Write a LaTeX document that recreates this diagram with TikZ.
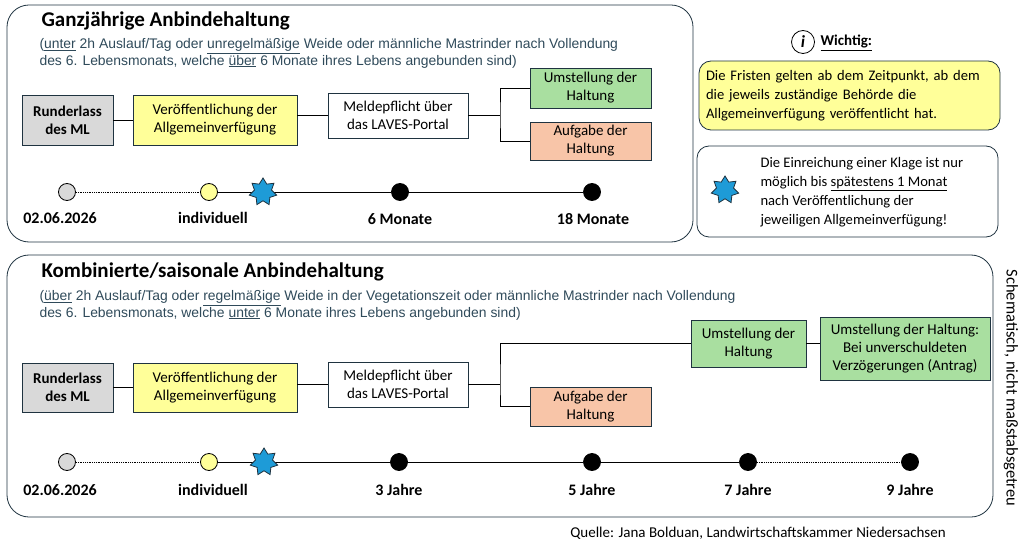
\documentclass[tikz,border=0pt]{standalone}
\usepackage{fontspec}
\setmainfont{Carlito}
\newfontfamily\arialfont{Liberation Sans}
\usetikzlibrary{shapes.geometric}
\definecolor{boxgray}{HTML}{D9D9D9}
\definecolor{boxyellow}{HTML}{FFFF99}
\definecolor{boxgreen}{HTML}{A9DFA0}
\definecolor{boxsalmon}{HTML}{F8C5A8}
\definecolor{starblue}{HTML}{1E9BD7}
\definecolor{edgedark}{HTML}{1F3340}
\definecolor{subtext}{HTML}{2F4A5A}
\tikzset{
  panel/.style = {draw=edgedark, thick, rounded corners=22pt},
  stage/.style = {draw=edgedark, thick, align=center, font=\fontsize{15}{18}\selectfont, inner sep=0pt},
  dot/.style = {draw, thick, circle, minimum size=17pt, inner sep=0pt},
  deadline/.style = {draw=edgedark, thick, fill=starblue, star, star points=7, star point ratio=1.6, minimum size=28pt, inner sep=0pt},
  tlabel/.style = {font=\bfseries\fontsize{16}{18}\selectfont},
  link/.style = {thick}
}
\begin{document}
\begin{tikzpicture}[x=1pt, y=-1pt]
  \useasboundingbox (0,0) rectangle (1024,545);
  % top panel
  \draw[panel] (7,5) rectangle (693,242);
  \node[anchor=west, font=\bfseries\fontsize{21}{24}\selectfont] (t1) at (38,21) {Ganzjährige Anbindehaltung};
  \node[anchor=north west, align=left, text=subtext, font=\arialfont\fontsize{13.9}{16.5}\selectfont] (s1) at (36,35)
    {(\underline{unter} 2h Auslauf/Tag oder \underline{unregelmäßige} Weide oder männliche Mastrinder nach Vollendung\\des 6. Lebensmonats, welche \underline{über} 6 Monate ihres Lebens angebunden sind)};
  \node[stage, fill=boxgray, font=\bfseries\fontsize{15}{18}\selectfont, minimum width=91pt, minimum height=50pt] (a1) at (67.5,120) {Runderlass\\des ML};
  \node[stage, fill=boxyellow, minimum width=164pt, minimum height=50pt] (b1) at (215,120) {Veröffentlichung der\\Allgemeinverfügung};
  \node[stage, fill=white, minimum width=140pt, minimum height=45pt] (c1) at (398,115.5) {Meldepflicht über\\das LAVES-Portal};
  \node[stage, fill=boxgreen, minimum width=121pt, minimum height=40pt] (d1) at (590.5,88) {Umstellung der\\Haltung};
  \node[stage, fill=boxsalmon, minimum width=121pt, minimum height=38pt] (e1) at (590.5,141) {Aufgabe der\\Haltung};
  \coordinate (j1) at (500,115.5);
  \draw[link] (a1) -- (b1);
  \draw[link] (b1.east |- c1) -- (c1);
  \draw[link] (c1) -- (j1);
  \draw[link] (d1.west) -| (j1) |- (e1.west);
  % top timeline
  \node[dot, fill=boxgray] (p1) at (67,192) {};
  \node[dot, fill=boxyellow] (p2) at (209,192) {};
  \node[dot, fill=black] (p3) at (400,192) {};
  \node[dot, fill=black] (p4) at (592,192) {};
  \draw[thick, densely dotted] (p1) -- (p2);
  \draw[link] (p2) -- (p3) -- (p4);
  \node[deadline] (k1) at (263,192) {};
  \node[tlabel] (l1) at (60,218) {02.06.2026};
  \node[tlabel] (l2) at (213,218) {individuell};
  \node[tlabel] (l3) at (400,219) {6 Monate};
  \node[tlabel] (l4) at (593,219) {18 Monate};
  % notes
  \node[draw, thick, circle, minimum size=23pt, inner sep=0pt, font=\bfseries\itshape\fontsize{17}{17}\selectfont] (info) at (803,42) {i};
  \node[anchor=west, font=\bfseries\fontsize{15}{17}\selectfont] (wt) at (817,43) {\underline{Wichtig:}};
  \node[draw=edgedark, thick, fill=boxyellow, rounded corners=12pt, minimum width=301pt, minimum height=69pt, text width=287pt, align=left, inner sep=0pt, font=\fontsize{14.6}{19}\selectfont] (n1) at (849.5,95.5)
    {Die Fristen gelten ab dem Zeitpunkt, ab dem\\die jeweils zuständige Behörde die\\Allgemeinverfügung veröffentlicht hat.};
  \draw[thick, draw=edgedark, rounded corners=12pt] (697,146) rectangle (998,237);
  \node[deadline] (k0) at (725,190) {};
  \node[anchor=west, align=left, font=\fontsize{14.6}{19}\selectfont] (n2) at (757,192)
    {Die Einreichung einer Klage ist nur\\möglich bis \underline{spätestens 1 Monat}\\nach Veröffentlichung der\\jeweiligen Allgemeinverfügung!};
  % bottom panel
  \draw[panel] (7,255) rectangle (993,517);
  \node[anchor=west, font=\bfseries\fontsize{21}{24}\selectfont] (t2) at (38,272) {Kombinierte/saisonale Anbindehaltung};
  \node[anchor=north west, align=left, text=subtext, font=\arialfont\fontsize{13.9}{16.5}\selectfont] (s2) at (36,287)
    {(\underline{über} 2h Auslauf/Tag oder \underline{regelmäßige} Weide in der Vegetationszeit oder männliche Mastrinder nach Vollendung\\des 6. Lebensmonats, welche \underline{unter} 6 Monate ihres Lebens angebunden sind)};
  \node[stage, fill=boxgray, font=\bfseries\fontsize{15}{18}\selectfont, minimum width=91pt, minimum height=49pt] (a2) at (67.5,387.5) {Runderlass\\des ML};
  \node[stage, fill=boxyellow, minimum width=164pt, minimum height=49pt] (b2) at (215,387.5) {Veröffentlichung der\\Allgemeinverfügung};
  \node[stage, fill=white, minimum width=140pt, minimum height=45pt] (c2) at (398,384.5) {Meldepflicht über\\das LAVES-Portal};
  \node[stage, fill=boxgreen, minimum width=115pt, minimum height=47pt] (d2) at (748.5,343.5) {Umstellung der\\Haltung};
  \node[stage, fill=boxgreen, minimum width=170pt, minimum height=63pt] (f2) at (905,348.5) {Umstellung der Haltung:\\Bei unverschuldeten\\Verzögerungen (Antrag)};
  \node[stage, fill=boxsalmon, minimum width=121pt, minimum height=39pt] (e2) at (590.5,406.5) {Aufgabe der\\Haltung};
  \coordinate (j2) at (500,384.5);
  \draw[link] (a2) -- (b2);
  \draw[link] (b2.east |- c2) -- (c2);
  \draw[link] (c2) -- (j2);
  \draw[link] (d2.west) -| (j2) |- (e2.west);
  \draw[link] (d2) -- (d2 -| f2.west);
  % bottom timeline
  \node[dot, fill=boxgray] (q1) at (67,462) {};
  \node[dot, fill=boxyellow] (q2) at (209,462) {};
  \node[dot, fill=black] (q3) at (399,462) {};
  \node[dot, fill=black] (q4) at (592,462) {};
  \node[dot, fill=black] (q5) at (748,462) {};
  \node[dot, fill=black] (q6) at (910,462) {};
  \draw[thick, densely dotted] (q1) -- (q2);
  \draw[link] (q2) -- (q3) -- (q4) -- (q5);
  \draw[thick, densely dotted] (q5) -- (q6);
  \node[deadline] (k2) at (264,462) {};
  \node[tlabel] (m1) at (60,490) {02.06.2026};
  \node[tlabel] (m2) at (213,490) {individuell};
  \node[tlabel] (m3) at (399,490) {3 Jahre};
  \node[tlabel] (m4) at (592,490) {5 Jahre};
  \node[tlabel] (m5) at (748,490) {7 Jahre};
  \node[tlabel] (m6) at (910,490) {9 Jahre};
  % side notes
  \node[rotate=-90, font=\fontsize{16.5}{18}\selectfont] (sch) at (1011,388) {Schematisch, nicht maßstabsgetreu};
  \node[font=\fontsize{15}{17}\selectfont] (src) at (758,533) {Quelle: Jana Bolduan, Landwirtschaftskammer Niedersachsen};
\end{tikzpicture}
\end{document}
